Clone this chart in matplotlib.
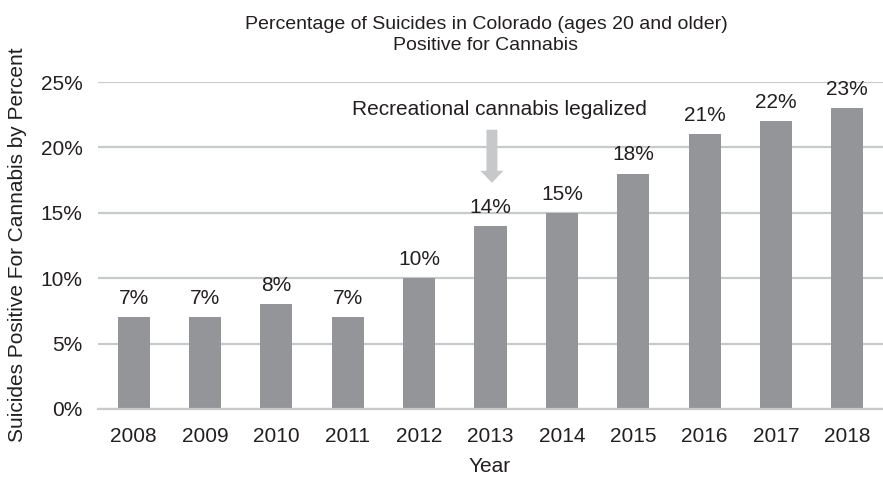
import numpy as np
import matplotlib.pyplot as plt

plt.rcParams['font.family'] = ['Liberation Sans', 'DejaVu Sans']

years = ['2008', '2009', '2010', '2011', '2012', '2013', '2014', '2015', '2016', '2017', '2018']
pct = [7, 7, 8, 7, 10, 14, 15, 18, 21, 22, 23]
yticks = [0, 5, 10, 15, 20, 25]

txt = '#231f20'
bar_col = '#939598'
grid_col = '#c8c9cb'
fs = 15

fig = plt.figure(figsize=(8.83, 4.8), dpi=100)
ax = fig.add_axes([98 / 883, 1 - 409 / 480, 785 / 883, (409 - 82) / 480])

x = np.arange(len(years))
ax.bar(x, pct, width=0.45, color=bar_col, zorder=3)
for xi, v in zip(x, pct):
    ax.text(xi, v + 0.7, f'{v}%', ha='center', va='bottom', fontsize=fs, color=txt)

ax.set_xlim(-0.5, len(years) - 0.5)
ax.set_ylim(0, 25)
ax.set_yticks(yticks)
ax.set_yticklabels([f'{t}%' for t in yticks])
ax.set_xticks(x)
ax.set_xticklabels(years)
ax.tick_params(length=0, labelsize=fs, labelcolor=txt)
ax.tick_params(axis='y', pad=11)
ax.tick_params(axis='x', pad=13)
ax.yaxis.grid(True, color=grid_col, lw=1.6, zorder=0)
for s in ['top', 'right', 'left']:
    ax.spines[s].set_visible(False)
ax.spines['bottom'].set_color(grid_col)
ax.spines['bottom'].set_linewidth(1.6)
ax.spines['bottom'].set_zorder(4)

# legalization marker over 2013
ax.text(5.12, 22.86, 'Recreational cannabis legalized', ha='center', va='center',
        fontsize=fs, color=txt)
ax.annotate('', xy=(5.02, 17.3), xytext=(5.02, 21.35),
            arrowprops=dict(arrowstyle='simple,head_length=0.86,head_width=1.66,tail_width=0.79',
                            mutation_scale=10, color='#c7c8ca', lw=0, shrinkA=0, shrinkB=0))

fig.text(486 / 883, 1 - 35 / 480, 'Percentage of Suicides in Colorado (ages 20 and older)\nPositive for Cannabis',
         ha='center', va='center', fontsize=14, color=txt, linespacing=1.3)
fig.text(490 / 883, 1 - 467 / 480, 'Year', ha='center', va='center', fontsize=fs, color=txt)
fig.text(18 / 883, 1 - 245 / 480, 'Suicides Positive For Cannabis by Percent', rotation=90,
         ha='center', va='center', fontsize=fs, color=txt)

fig.savefig('out.png', dpi=100)
